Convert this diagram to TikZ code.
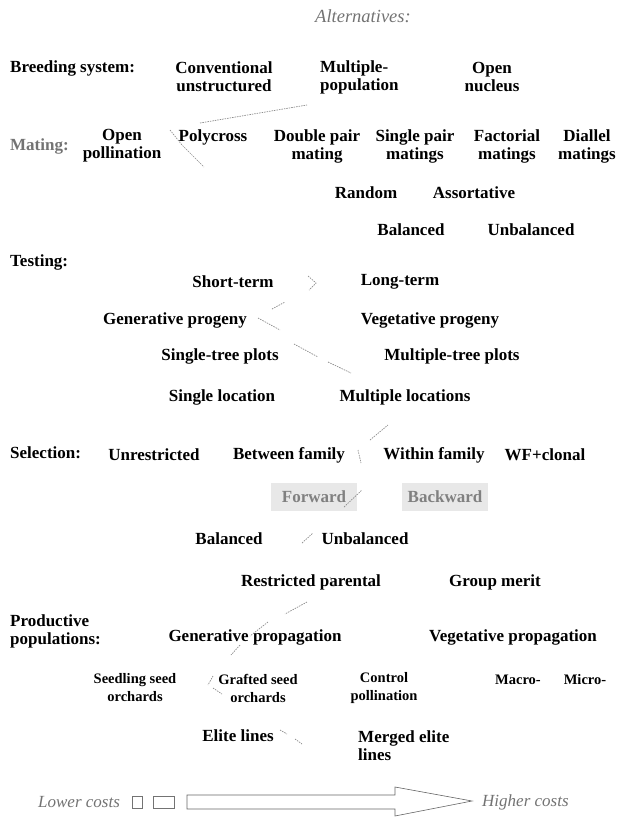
\documentclass[tikz,border=0pt]{standalone}
\usepackage{fontspec}
\setmainfont{Liberation Serif}
\tikzset{opt/.style={font=\bfseries\fontsize{17}{18}\selectfont, align=center, inner sep=0pt}}
\tikzset{smallopt/.style={opt, font=\bfseries\fontsize{14.5}{18}\selectfont}}
\tikzset{rowlabel/.style={opt, align=left, anchor=west}}
\tikzset{cost/.style={font=\itshape\fontsize{17}{18}\selectfont, text=black!55, inner sep=0pt}}
\tikzset{shaded/.style={opt, text=black!50, fill=black!9, minimum height=28pt, minimum width=86pt}}
\tikzset{trail/.style={black!45, line width=0.7pt, dash pattern=on 1.5pt off 1pt}}

\begin{document}
\begin{tikzpicture}[x=1pt,y=-1pt]
    \useasboundingbox (0,0) rectangle (618,817);
    \node[cost, font=\itshape\fontsize{18.5}{18}\selectfont] (alt) at (363,16) {Alternatives:};

    % breeding system
    \node[rowlabel] (breed) at (10,68) {Breeding system:};
    \node[opt] (conv) at (224,77) {Conventional\\unstructured};
    \node[opt, align=left, anchor=west] (multi) at (320,77) {Multiple-\\population};
    \node[opt] (nucleus) at (492,77) {Open\\nucleus};

    % mating
    \node[rowlabel, text=black!55] (mating) at (10,146) {Mating:};
    \node[opt] (openpol) at (122,146) {Open\\pollination};
    \node[opt] (poly) at (213,137) {Polycross};
    \node[opt] (double) at (317,146) {Double pair\\mating};
    \node[opt] (single) at (415,146) {Single pair\\matings};
    \node[opt] (fact) at (507,146) {Factorial\\matings};
    \node[opt] (diallel) at (587,146) {Diallel\\matings};
    \node[opt] (random) at (366,193) {Random};
    \node[opt] (assort) at (474,193) {Assortative};
    \node[opt] (bal1) at (411,230) {Balanced};
    \node[opt] (unbal1) at (531,230) {Unbalanced};

    % testing
    \node[rowlabel] (testing) at (10,262) {Testing:};
    \node[opt] (short) at (233,282) {Short-term};
    \node[opt] (long) at (400,282) {Long-term};
    \node[opt] (genprog) at (175,320) {Generative progeny};
    \node[opt] (vegprog) at (430,320) {Vegetative progeny};
    \node[opt] (stp) at (220,356) {Single-tree plots};
    \node[opt] (mtp) at (452,356) {Multiple-tree plots};
    \node[opt] (sloc) at (222,397) {Single location};
    \node[opt] (mloc) at (405,397) {Multiple locations};

    % selection
    \node[rowlabel] (selection) at (10,453) {Selection:};
    \node[opt] (unrestr) at (154,455) {Unrestricted};
    \node[opt] (between) at (289,455) {Between family};
    \node[opt] (within) at (434,455) {Within family};
    \node[opt] (wfclonal) at (545,455) {WF+clonal};
    \node[shaded] (forward) at (314,497) {Forward};
    \node[shaded] (backward) at (445,497) {Backward};
    \node[opt] (bal2) at (229,539) {Balanced};
    \node[opt] (unbal2) at (365,539) {Unbalanced};
    \node[opt] (restr) at (311,582) {Restricted parental};
    \node[opt] (group) at (495,582) {Group merit};

    % productive populations
    \node[rowlabel] (prod) at (10,631) {Productive\\populations:};
    \node[opt] (genprop) at (255,637) {Generative propagation};
    \node[opt] (vegprop) at (513,637) {Vegetative propagation};
    \node[smallopt] (seedling) at (135,688) {Seedling seed\\orchards};
    \node[smallopt] (grafted) at (258,688) {Grafted seed\\orchards};
    \node[smallopt] (control) at (384,688) {Control\\pollination};
    \node[smallopt] (macro) at (518,680) {Macro-};
    \node[smallopt] (micro) at (585,680) {Micro-};
    \node[opt] (elite) at (238,736) {Elite lines};
    \node[opt, align=left, anchor=west] (merged) at (358,746) {Merged elite\\lines};

    % faint trail of the chosen route
    \draw[trail] (200,123) -- (307,105);
    \draw[trail] (170,130) -- (182,145) -- (204,167);
    \draw[trail] (308,276) -- (316,283) -- (309,290);
    \draw[trail] (272,309) -- (285,302);
    \draw[trail] (258,318) -- (280,330);
    \draw[trail] (294,344) -- (318,357);
    \draw[trail] (328,362) -- (351,373);
    \draw[trail] (370,440) -- (388,425);
    \draw[trail] (358,450) -- (361,463);
    \draw[trail] (344,507) -- (362,490);
    \draw[trail] (302,543) -- (313,533);
    \draw[trail] (330,577) -- (334,587);
    \draw[trail] (307,602) -- (285,614);
    \draw[trail] (268,622) -- (250,636);
    \draw[trail] (240,645) -- (231,655);
    \draw[trail] (213,676) -- (208,685);
    \draw[trail] (213,688) -- (222,694);
    \draw[trail] (280,730) -- (287,734);
    \draw[trail] (295,739) -- (302,744);

    % cost scale
    \node[cost, anchor=west] (lower) at (38,802) {Lower costs};
    \node[draw=black!55, minimum width=10pt, minimum height=12pt, inner sep=0pt] (sqa) at (137,802) {};
    \node[draw=black!55, minimum width=21pt, minimum height=12pt, inner sep=0pt] (sqb) at (164,802) {};
    \draw[black!60, line width=0.6pt] (187,795) -- (395,795) -- (395,787) -- (472,801)
        -- (395,816) -- (395,809) -- (187,809) -- cycle;
    \node[cost, anchor=west] (higher) at (482,802) {Higher costs};
\end{tikzpicture}
\end{document}
